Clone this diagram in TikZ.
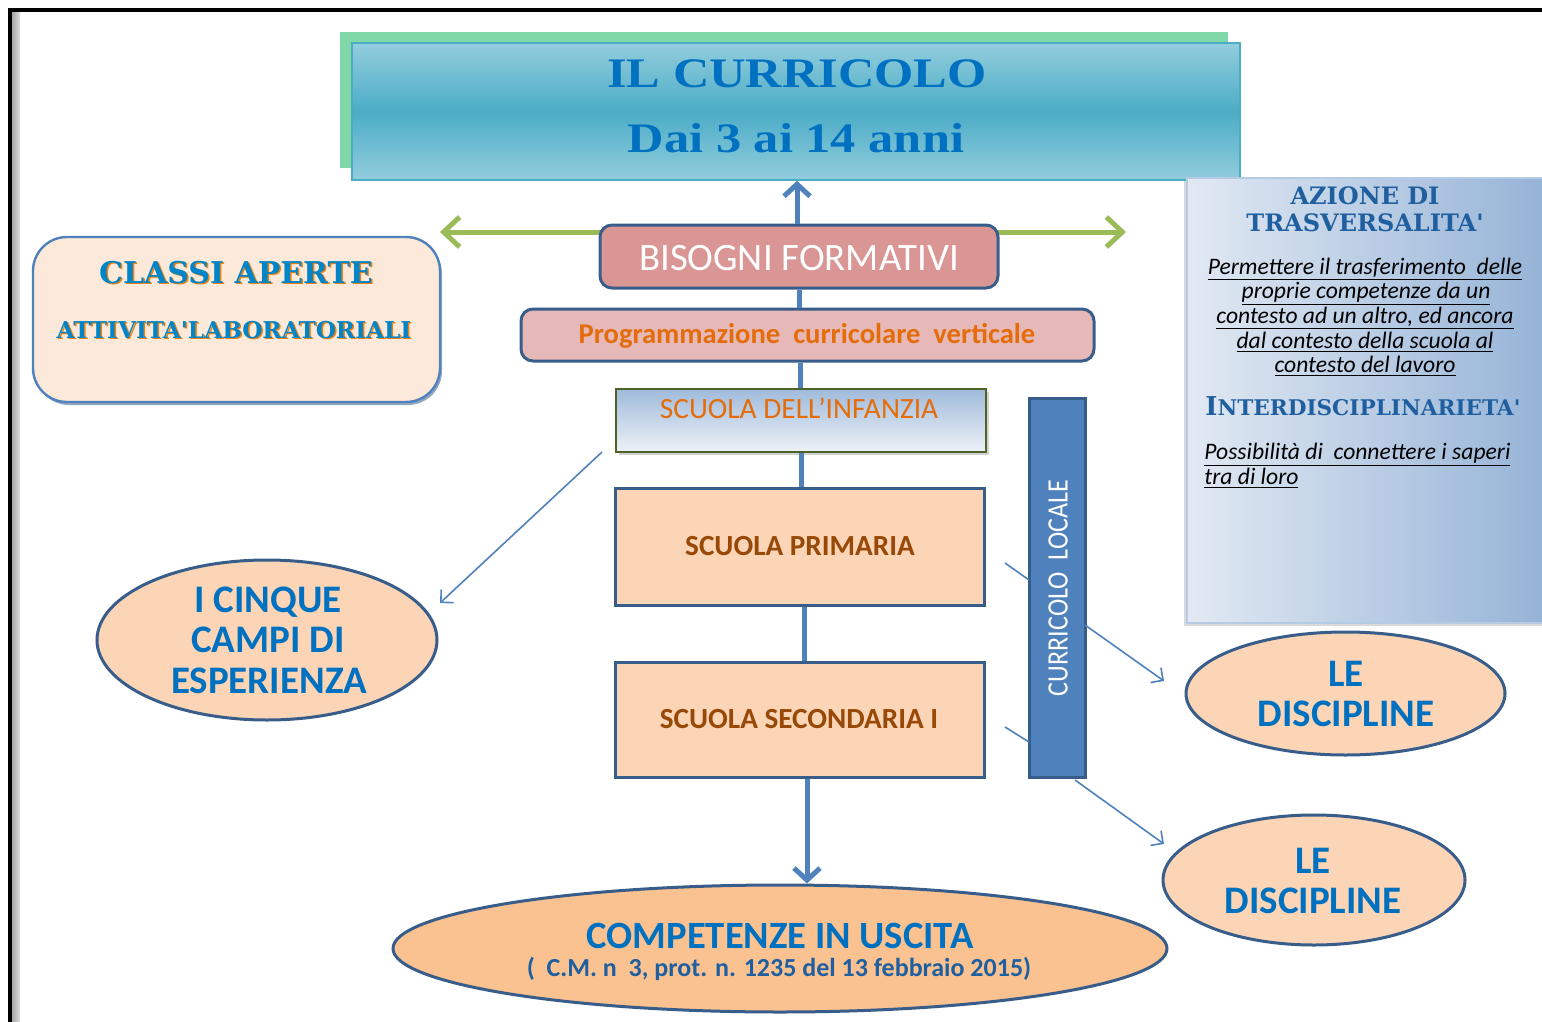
\documentclass[tikz,border=0pt]{standalone}
\usepackage{fontspec}
\setmainfont{Carlito}
\newfontfamily\serifbold{DejaVu Serif}
\newfontfamily\titlefont[FakeStretch=1.2]{Liberation Serif}
\newfontfamily\condfont[FakeStretch=0.88]{Carlito}
\usetikzlibrary{arrows.meta,shapes.geometric,shadows}
\definecolor{tblue}{HTML}{0070C0}
\definecolor{dkb}{HTML}{385D8A}
\definecolor{abl}{HTML}{4F81BD}
\definecolor{grn}{HTML}{9BBB59}
\definecolor{tgreen}{HTML}{80D8A8}
\definecolor{tlight}{HTML}{93CDDD}
\definecolor{tmid}{HTML}{4BACC6}
\definecolor{rose}{HTML}{D99694}
\definecolor{rosel}{HTML}{E6B9B8}
\definecolor{orng}{HTML}{E46C0A}
\definecolor{brwn}{HTML}{984807}
\definecolor{peach}{HTML}{FBD5B5}
\definecolor{peachd}{HTML}{F9C290}
\definecolor{cream}{HTML}{FDE9D9}
\definecolor{olive}{HTML}{4F6228}
\definecolor{pl}{HTML}{E2E9F3}
\definecolor{pd}{HTML}{95B3D7}
\definecolor{nblue}{HTML}{1F5FA0}
\begin{document}
\begin{tikzpicture}[x=0.5pt,y=-0.5pt,
  box/.style={draw=dkb, line width=1.5pt, inner sep=0pt},
  pill/.style={box, rounded corners=6pt},
  oval/.style={ellipse, draw=dkb, line width=1.5pt, fill=peach, inner sep=0pt},
  txt/.style={inner sep=0pt, anchor=base},
  bluebig/.style={txt, text=tblue, font=\bfseries\fontsize{19.5}{20}\selectfont},
  thinarr/.style={draw=abl, line width=0.8pt, -{Straight Barb[length=4.5pt,width=9pt]}},
  thinline/.style={draw=abl, line width=0.8pt},
  mainline/.style={draw=abl, line width=2.5pt},
  mainarr/.style={mainline, -{Straight Barb[length=6pt,width=13pt]}},
  italtxt/.style={txt, font=\itshape\fontsize{11.8}{13}\selectfont},
  alg/.style={txt, font=\serifbold\bfseries\fontsize{12}{12}\selectfont}
]
\useasboundingbox (0,0) rectangle (1542,1022);
% frame
\fill[left color=gray!70, right color=gray!25] (12,12) rectangle (20,1022);
\draw[line width=1.6pt] (10,1022) -- (10,10) -- (1542,10);

% title
\node[fill=tgreen, minimum width=444pt, minimum height=68pt, inner sep=0pt] (tshadow) at (784,100) {};
\node[draw=tmid, line width=0.8pt, top color=tlight, bottom color=tlight, middle color=tmid,
      minimum width=444pt, minimum height=68.5pt, inner sep=0pt] (title) at (796,111.5) {};
\node[txt, text=tblue, font=\titlefont\bfseries\fontsize{21}{21}\selectfont] (t1) at (797,88) {IL CURRICOLO};
\node[txt, text=tblue, font=\titlefont\bfseries\fontsize{21}{21}\selectfont] (t2) at (796,153) {Dai 3 ai 14 anni};

% green double arrow
\coordinate (gL) at (440,232);
\coordinate (gR) at (1126,232);
\draw[draw=grn, line width=2.5pt, {Straight Barb[length=8pt,width=15pt]}-{Straight Barb[length=8pt,width=15pt]}] (gL) -- (gR);

% central column
\node[pill, fill=rose, minimum width=199pt, minimum height=31.5pt] (bisogni) at (799,256.5) {};
\node[txt, text=white, font=\fontsize{19.4}{20}\selectfont] (bisognit) at (799,270) {BISOGNI FORMATIVI};
\node[pill, fill=rosel, minimum width=286.5pt, minimum height=26pt] (prog) at (807.5,335) {};
\node[txt, text=orng, font=\bfseries\fontsize{14.3}{15}\selectfont] (progt) at (807,343) {Programmazione\ \ curricolare\ \ verticale};
\node[draw=olive, line width=1pt, top color=pd!90, bottom color=pl!60, minimum width=185pt, minimum height=31.5pt, inner sep=0pt,
      drop shadow={opacity=0.35, shadow xshift=1.5pt, shadow yshift=-1.5pt}] (infanzia) at (801,420.5) {};
\node[txt, text=orng, font=\fontsize{14.7}{15}\selectfont] (infanziat) at (799,418) {SCUOLA DELL’INFANZIA};
\node[box, fill=peach, minimum width=184.5pt, minimum height=58.5pt] (primaria) at (799.5,546.5) {};
\node[txt, text=brwn, font=\bfseries\fontsize{14.6}{15}\selectfont] (primariat) at (800,555) {SCUOLA PRIMARIA};
\node[box, fill=peach, minimum width=184.5pt, minimum height=57.5pt] (secondaria) at (799.5,719.5) {};
\node[txt, text=brwn, font=\bfseries\fontsize{14.6}{15}\selectfont] (secondariat) at (799,728) {SCUOLA SECONDARIA I};

% curricolo locale
\node[box, fill=abl, minimum width=28pt, minimum height=189.5pt] (locale) at (1057,587.5) {};
\node[rotate=90, inner sep=0pt, text=white, font=\condfont\fontsize{14.8}{15}\selectfont] (localet) at (1058,588) {CURRICOLO\ \ LOCALE};

% bottom ellipse
\node[oval, fill=peachd, minimum width=387pt, minimum height=63.5pt] (comp) at (780,948.5) {};
\node[txt, text=tblue, font=\bfseries\fontsize{19.3}{20}\selectfont] (compt) at (780,948) {COMPETENZE IN USCITA};
\node[txt, text=nblue, font=\bfseries\fontsize{13}{14}\selectfont] (compt2) at (779,976) {(\ \ C.M. n\ \ 3, prot. n. 1235 del 13 febbraio 2015)};

% left ellipse
\node[oval, minimum width=170pt, minimum height=80pt] (cinque) at (267,640) {};
\node[bluebig] (cinque1) at (268,612) {I CINQUE};
\node[bluebig] (cinque2) at (268,652) {CAMPI DI};
\node[bluebig] (cinque3) at (269,693) {ESPERIENZA};

% right ellipses
\node[oval, minimum width=159.5pt, minimum height=61.5pt] (disc1) at (1345.5,693.5) {};
\node[bluebig] (disc1a) at (1346,686) {LE};
\node[bluebig] (disc1b) at (1346,726) {DISCIPLINE};
\node[oval, minimum width=151pt, minimum height=65pt] (disc2) at (1314,880) {};
\node[bluebig] (disc2a) at (1313,873) {LE};
\node[bluebig] (disc2b) at (1313,913) {DISCIPLINE};

% classi aperte
\node[draw=abl, line width=1.2pt, fill=cream, rounded corners=17pt, minimum width=203.5pt, minimum height=82.5pt, inner sep=0pt,
      drop shadow={opacity=0.55, fill=dkb, shadow xshift=1pt, shadow yshift=-1.5pt}] (classi) at (236.5,319.5) {};
\node[txt, text=orange!80!brown, font=\serifbold\bfseries\fontsize{15}{15}\selectfont] (classis) at (237.5,284.5) {CLASSI APERTE};
\node[txt, text=tblue!85!cyan, font=\serifbold\bfseries\fontsize{15}{15}\selectfont] (classit) at (236,283) {CLASSI APERTE};
\node[txt, text=orange!80!brown, font=\serifbold\bfseries\fontsize{11.6}{12}\selectfont] (attivs) at (235.5,339.5) {ATTIVITA'LABORATORIALI};
\node[txt, text=tblue!85!cyan, font=\serifbold\bfseries\fontsize{11.6}{12}\selectfont] (attiv) at (234,338) {ATTIVITA'LABORATORIALI};

% right panel
\node[draw=pd!70, line width=0.6pt, left color=pl, right color=pd, minimum width=180pt, minimum height=222.5pt, inner sep=0pt,
      drop shadow={opacity=0.3, shadow xshift=-1.5pt, shadow yshift=-1.5pt}] (panel) at (1367,400.5) {};
\node[alg, text=nblue] (az1) at (1365,205) {AZIONE DI};
\node[alg, text=nblue] (az2) at (1365,231) {TRASVERSALITA'};
\node[italtxt] (p1) at (1365,274) {\underline{Permettere il trasferimento\ \ delle}};
\node[italtxt] (p2) at (1366,298) {\underline{proprie competenze da un}};
\node[italtxt] (p3) at (1365,323) {\underline{contesto ad un altro, ed ancora}};
\node[italtxt] (p4) at (1365,348) {\underline{dal contesto della scuola al}};
\node[italtxt] (p5) at (1365,372) {\underline{contesto del lavoro}};
\node[txt, anchor=base west, text=nblue, font=\serifbold\bfseries] (inter) at (1205,415)
  {{\fontsize{13}{13}\selectfont I}{\fontsize{10.8}{12}\selectfont NTERDISCIPLINARIETA'}};
\node[italtxt, anchor=base west] (q1) at (1204,459) {\underline{Possibilità di\ \ connettere i saperi}};
\node[italtxt, anchor=base west] (q2) at (1204,484) {\underline{tra di loro}};

% main connectors
\draw[mainarr] (bisogni.north -| t1) -- (title.south -| t1);
\draw[mainline] (bisogni.south) -- (bisogni.south |- prog.north);
\draw[mainline] (prog.south -| 800,0) -- (infanzia.north -| 800,0);
\draw[mainline] (infanzia.south -| 801.5,0) -- (primaria.north -| 801.5,0);
\draw[mainline] (primaria.south -| 804.5,0) -- (secondaria.north -| 804.5,0);
\draw[mainarr] (secondaria.south -| 807,0) -- (comp.north -| 807,0);

% thin connectors
\coordinate (a0) at (602,452);
\coordinate (a1) at (440,603);
\draw[thinarr] (a0) -- (a1);
\coordinate (b0) at (1005,563);
\coordinate (b1) at (1029,580);
\coordinate (b2) at (1085,625);
\coordinate (b3) at (1164,681);
\draw[thinline] (b0) -- (b1);
\draw[thinarr] (b2) -- (b3);
\coordinate (c0) at (1005,727);
\coordinate (c1) at (1029,742);
\coordinate (c2) at (1075,780);
\coordinate (c3) at (1164,844);
\draw[thinline] (c0) -- (c1);
\draw[thinarr] (c2) -- (c3);
\end{tikzpicture}
\end{document}
